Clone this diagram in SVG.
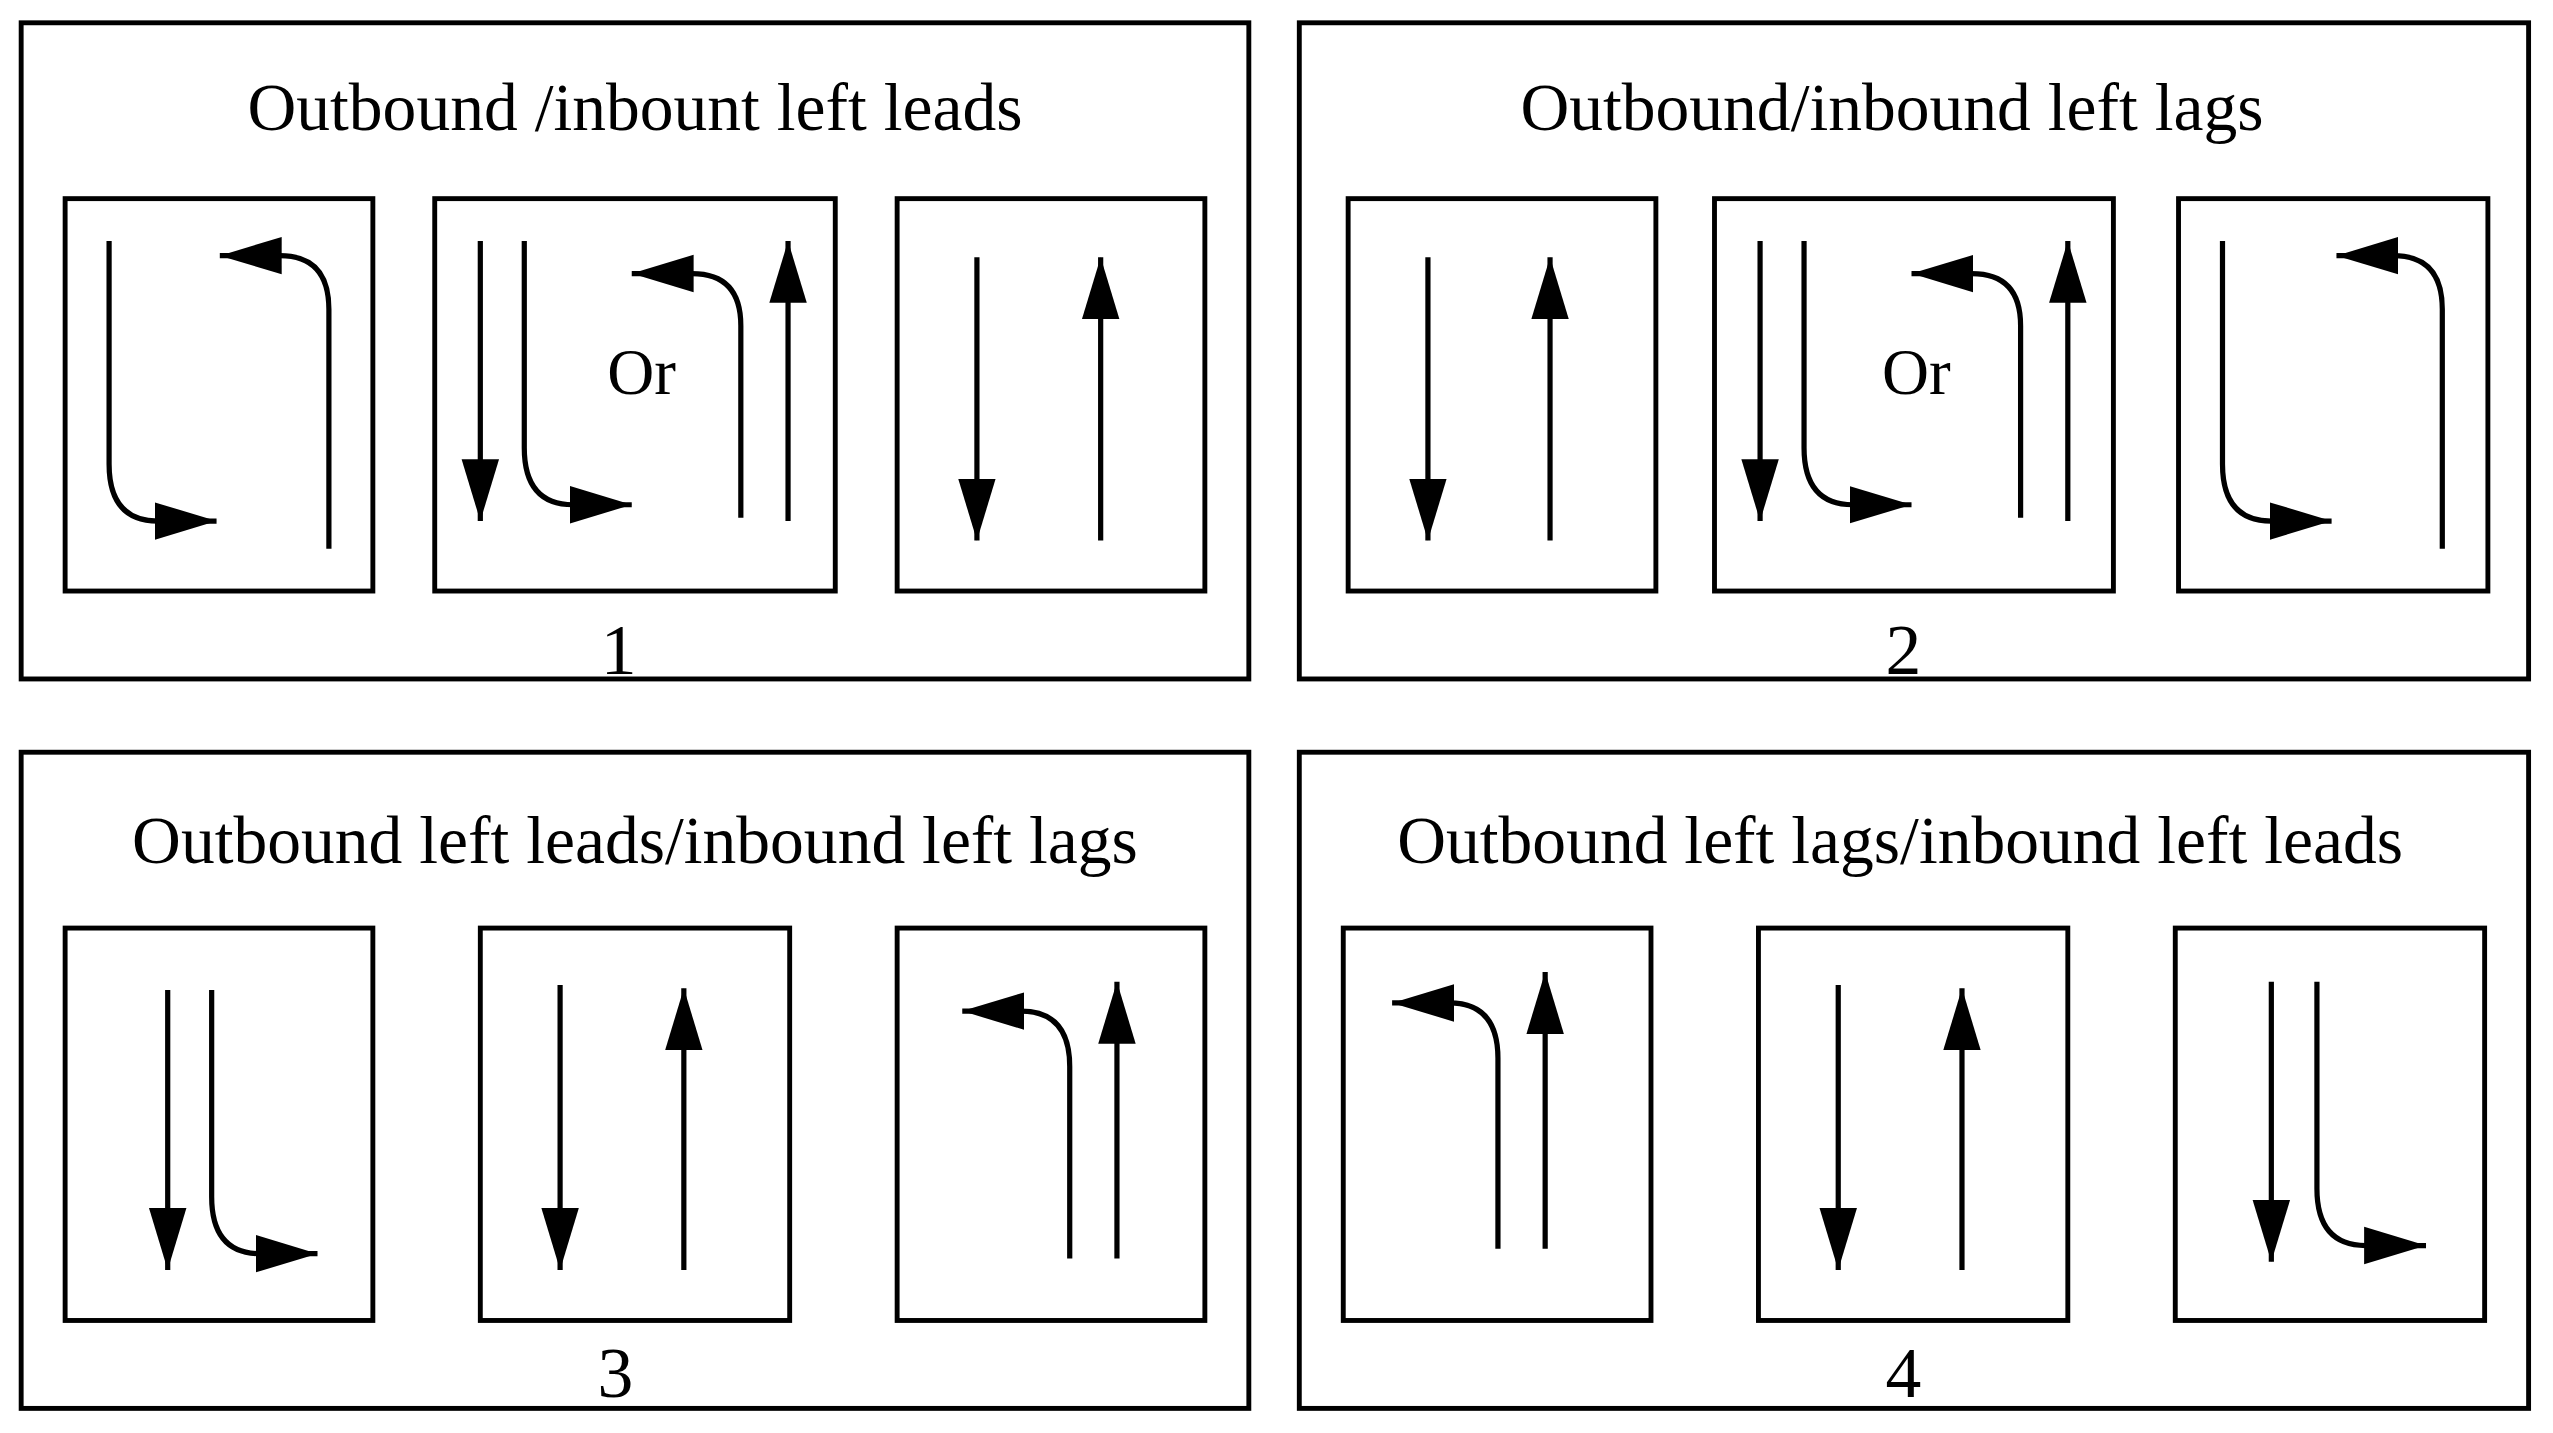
<svg xmlns="http://www.w3.org/2000/svg" width="2553" height="1433" viewBox="0 0 2553 1433">
<defs>
<marker id="ah" markerUnits="userSpaceOnUse" markerWidth="40" markerHeight="26" refX="38" refY="13" orient="auto" viewBox="0 0 40 26"><path d="M0,1.5 L38,13 L0,24.5 z" fill="#000"/></marker>
<style>
.frame{fill:#fff;stroke:#000;stroke-width:3}
.box{fill:none;stroke:#000;stroke-width:3}
.a{fill:none;stroke:#000;stroke-width:3.2;marker-end:url(#ah)}
text{font-family:"Liberation Serif","Times New Roman",serif;fill:#000;text-anchor:middle}
.t{font-size:41.5px}
.n{font-size:44px}
.or{font-size:40px}
</style>
</defs>
<rect width="2553" height="1433" fill="#fff"/>
<g transform="scale(1.6282)">
<g id="panel1">
<rect class="frame" x="13" y="14" width="754" height="403"/>
<text class="t" x="390" y="80">Outbound /inbount left leads</text>
<rect class="box" x="40" y="122" width="189" height="241"/>
<rect class="box" x="267" y="122" width="246" height="241"/>
<rect class="box" x="551" y="122" width="189" height="241"/>
<text class="n" x="380" y="414">1</text>
</g>
<g id="panel2">
<rect class="frame" x="798" y="14" width="755" height="403"/>
<text class="t" x="1162" y="80">Outbound/inbound left lags</text>
<rect class="box" x="828" y="122" width="189" height="241"/>
<rect class="box" x="1053" y="122" width="245" height="241"/>
<rect class="box" x="1338" y="122" width="190" height="241"/>
<text class="n" x="1169" y="414">2</text>
</g>
<g id="panel3">
<rect class="frame" x="13" y="462" width="754" height="403"/>
<text class="t" x="390" y="530">Outbound left leads/inbound left lags</text>
<rect class="box" x="40" y="570" width="189" height="241"/>
<rect class="box" x="295" y="570" width="190" height="241"/>
<rect class="box" x="551" y="570" width="189" height="241"/>
<text class="n" x="378" y="858">3</text>
</g>
<g id="panel4">
<rect class="frame" x="798" y="462" width="755" height="403"/>
<text class="t" x="1167" y="530">Outbound left lags/inbound left leads</text>
<rect class="box" x="825" y="570" width="189" height="241"/>
<rect class="box" x="1080" y="570" width="190" height="241"/>
<rect class="box" x="1336" y="570" width="190" height="241"/>
<text class="n" x="1169" y="858">4</text>
</g>
<text class="or" x="394" y="242">Or</text>
<text class="or" x="1177" y="242">Or</text>
<g id="connectors">
<path class="a" d="M67,148 V285 Q67,320 97,320 H133"/>
<path class="a" d="M202,337 V190 Q202,157 172,157 H135"/>
<path class="a" d="M295,148 V320"/>
<path class="a" d="M322,148 V275 Q322,310 352,310 H388"/>
<path class="a" d="M455,318 V200 Q455,168 425,168 H388"/>
<path class="a" d="M484,320 V148"/>
<path class="a" d="M600,158 V332"/>
<path class="a" d="M676,332 V158"/>
<path class="a" d="M877,158 V332"/>
<path class="a" d="M952,332 V158"/>
<path class="a" d="M1081,148 V320"/>
<path class="a" d="M1108,148 V275 Q1108,310 1138,310 H1174"/>
<path class="a" d="M1241,318 V200 Q1241,168 1211,168 H1174"/>
<path class="a" d="M1270,320 V148"/>
<path class="a" d="M1365,148 V285 Q1365,320 1395,320 H1432"/>
<path class="a" d="M1500,337 V190 Q1500,157 1470,157 H1435"/>
<path class="a" d="M103,608 V780"/>
<path class="a" d="M130,608 V735 Q130,770 160,770 H195"/>
<path class="a" d="M344,605 V780"/>
<path class="a" d="M420,780 V607"/>
<path class="a" d="M657,773 V655 Q657,621 627,621 H591"/>
<path class="a" d="M686,773 V603"/>
<path class="a" d="M920,767 V650 Q920,616 890,616 H855"/>
<path class="a" d="M949,767 V597"/>
<path class="a" d="M1129,605 V780"/>
<path class="a" d="M1205,780 V607"/>
<path class="a" d="M1395,603 V775"/>
<path class="a" d="M1423,603 V730 Q1423,765 1453,765 H1490"/>
</g>
</g>
</svg>
